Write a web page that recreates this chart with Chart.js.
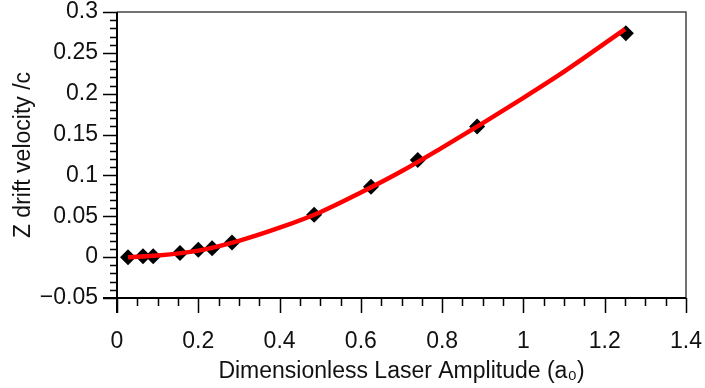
<!DOCTYPE html>
<html lang="en">
  <head>
    <meta charset="UTF-8" />
    <title>Drift velocity</title>
    <script src="https://cdn.jsdelivr.net/npm/chart.js@4.4.0/dist/chart.umd.min.js"></script>
    <style>
      html, body { margin: 0; padding: 0; background: white; }
      #wrap { width: 705px; height: 388px; }
    </style>
  </head>
  <body>
    <div id="wrap"><canvas id="myChart" width="705" height="388"></canvas></div>
    <script>
      // measured points (diamonds)
      const amp = [0.027, 0.064, 0.089, 0.155, 0.200, 0.234, 0.283, 0.485, 0.625, 0.740, 0.886, 1.252];
      const drift = [0.000, 0.001, 0.001, 0.005, 0.009, 0.011, 0.018, 0.052, 0.086, 0.119, 0.160, 0.274];

      // fitted curve (red)
      const fitAmp = [0.027, 0.1, 0.2, 0.3, 0.4, 0.5, 0.6, 0.7, 0.8, 0.9, 1.0, 1.1, 1.25];
      const fitDrift = [0.000, 0.002, 0.008, 0.020, 0.036, 0.055, 0.079, 0.105, 0.134, 0.164, 0.195, 0.227, 0.279];

      const xTicks = [0, 0.2, 0.4, 0.6, 0.8, 1, 1.2, 1.4];
      const yTicks = [-0.05, 0, 0.05, 0.1, 0.15, 0.2, 0.25, 0.3];

      const font = { family: "'Liberation Sans', Arial, sans-serif", size: 23 };

      // tick marks and frame drawn on the library's scales
      const axisMarks = {
        id: 'axisMarks',
        afterDraw(chart) {
          const ctx = chart.ctx;
          const a = chart.chartArea;
          const xs = chart.scales.x, ys = chart.scales.y;
          ctx.save();
          // frame top/right
          ctx.strokeStyle = '#444';
          ctx.lineWidth = 1.5;
          ctx.beginPath();
          ctx.moveTo(a.left, a.top);
          ctx.lineTo(a.right, a.top);
          ctx.lineTo(a.right, a.bottom);
          ctx.stroke();
          // axes
          ctx.strokeStyle = '#000';
          ctx.lineWidth = 2;
          ctx.beginPath();
          ctx.moveTo(a.left - 14, a.bottom);
          ctx.lineTo(a.right, a.bottom);
          ctx.moveTo(a.left, a.top);
          ctx.lineTo(a.left, a.bottom + 15);
          ctx.stroke();
          ctx.lineWidth = 1.5;
          ctx.beginPath();
          for (let i = 0; i <= 28; i++) {
            const v = i * 0.05;
            const px = Math.round(xs.getPixelForValue(v)) + 0.5;
            const len = (i % 4 === 0) ? 15 : 8;
            ctx.moveTo(px, a.bottom);
            ctx.lineTo(px, a.bottom + len);
          }
          for (let i = -5; i <= 30; i++) {
            const v = i * 0.01;
            const py = Math.round(ys.getPixelForValue(v)) + 0.5;
            const len = (i % 5 === 0) ? 14 : 7;
            ctx.moveTo(a.left - len, py);
            ctx.lineTo(a.left, py);
          }
          ctx.stroke();
          ctx.restore();
        }
      };

      const ctx = document.getElementById('myChart').getContext('2d');
      const myChart = new Chart(ctx, {
        type: 'scatter',
        data: {
          datasets: [
            {
              label: 'fit',
              data: fitAmp.map((x, i) => ({ x: x, y: fitDrift[i] })),
              showLine: true,
              borderColor: '#ff0000',
              borderWidth: 4.5,
              pointRadius: 0,
              cubicInterpolationMode: 'monotone',
              order: 0
            },
            {
              label: 'data',
              data: amp.map((x, i) => ({ x: x, y: drift[i] })),
              pointStyle: 'rectRot',
              pointRadius: 8,
              backgroundColor: '#000',
              borderColor: '#000',
              borderWidth: 0,
              order: 1
            }
          ]
        },
        options: {
          responsive: false,
          animation: false,
          layout: { padding: { top: 12, right: 19, left: 0, bottom: 0 } },
          plugins: { legend: { display: false }, tooltip: { enabled: false } },
          scales: {
            x: {
              type: 'linear',
              min: 0,
              max: 1.4,
              afterBuildTicks: s => { s.ticks = xTicks.map(v => ({ value: v })); },
              afterFit: s => { s.height = 90; s.paddingLeft = 0; s.paddingRight = 0; },
              grid: { display: false, drawTicks: false },
              border: { display: false },
              ticks: {
                color: '#111',
                font: font,
                padding: 30,
                maxRotation: 0,
                callback: v => String(v)
              },
              title: {
                display: true,
                text: 'Dimensionless Laser Amplitude (a\u2080)',
                color: '#111',
                font: font,
                padding: { top: 0, bottom: 3 }
              }
            },
            y: {
              type: 'linear',
              min: -0.05,
              max: 0.3,
              afterBuildTicks: s => { s.ticks = yTicks.map(v => ({ value: v })); },
              afterFit: s => { s.width = 117; s.paddingTop = 0; s.paddingBottom = 0; },
              grid: { display: false, drawTicks: false },
              border: { display: false },
              ticks: {
                color: '#111',
                font: font,
                padding: 19,
                callback: v => String(Math.round(v * 100) / 100).replace('-', '\u2212')
              },
              title: {
                display: true,
                text: 'Z drift velocity /c',
                color: '#111',
                font: font,
                padding: { top: 10, bottom: 2 }
              }
            }
          }
        },
        plugins: [axisMarks]
      });
    </script>
  </body>
</html>
